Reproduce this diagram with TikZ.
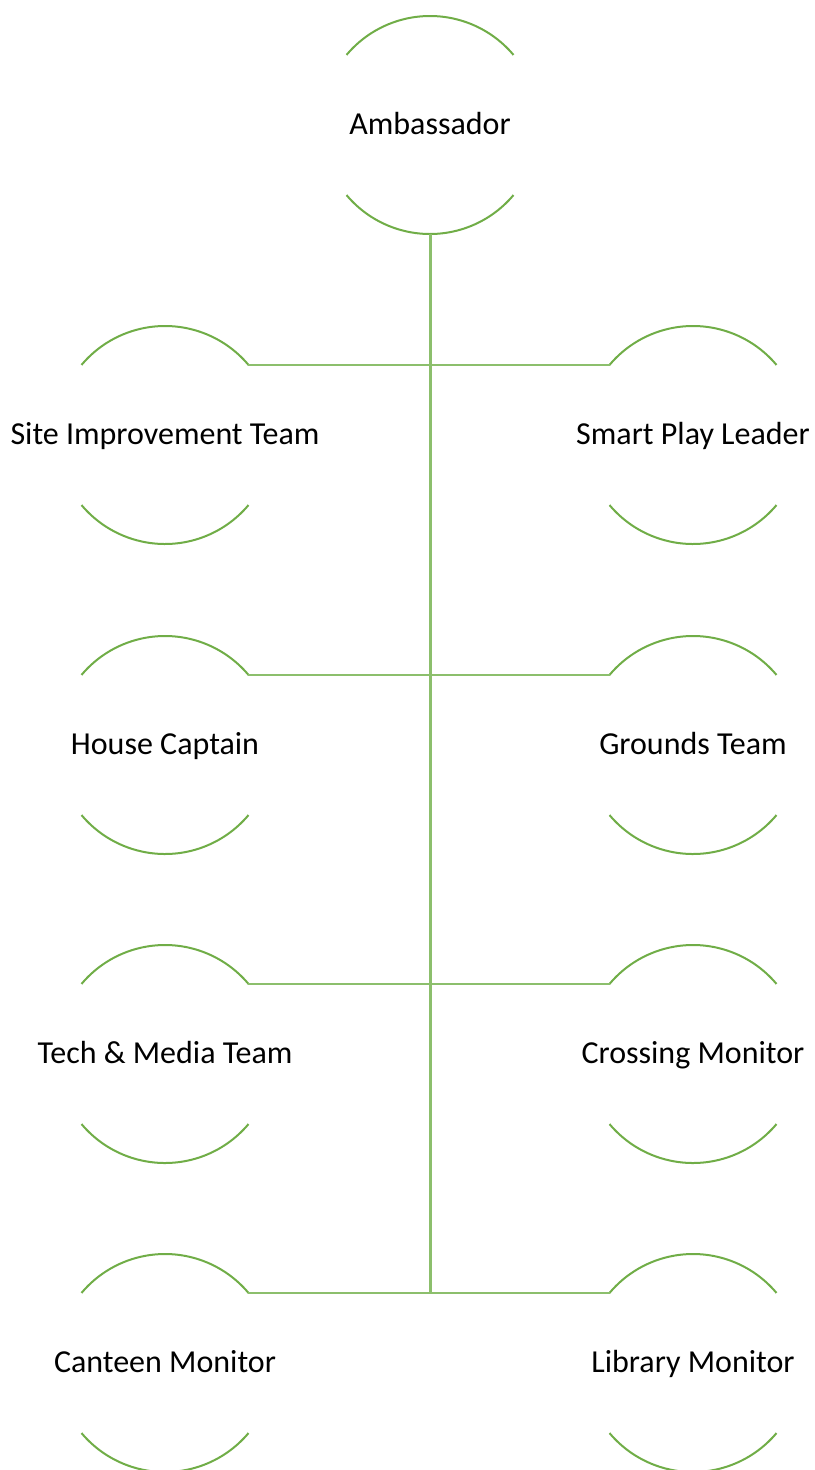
\documentclass[tikz,border=0pt]{standalone}
\usepackage{fontspec}
\setmainfont{Carlito}
\definecolor{arcgreen}{HTML}{70AD47}
\definecolor{linegreen}{HTML}{8CBF6C}
\begin{document}
\begin{tikzpicture}[x=1pt,y=-1pt,
  ring/.style={circle,minimum size=218pt,inner sep=0pt,outer sep=0pt},
  lbl/.style={font=\fontsize{32}{38}\selectfont,text=black,inner sep=0pt,anchor=base,yshift=-9pt},
  arcline/.style={draw=arcgreen,line width=2pt},
  trunk/.style={draw=linegreen,line width=3pt},
  branch/.style={draw=linegreen,line width=2pt}]
\clip (0,0) rectangle (814,1470);
% nodes
\node[ring] (amb) at (430,125) {};
\node[ring] (sit) at (165,435) {};
\node[ring] (spl) at (693,435) {};
\node[ring] (hc)  at (165,745) {};
\node[ring] (gt)  at (693,745) {};
\node[ring] (tm)  at (165,1054) {};
\node[ring] (cr)  at (693,1054) {};
\node[ring] (cm)  at (165,1363) {};
\node[ring] (lm)  at (693,1363) {};
\node[lbl] (tamb) at (amb) {Ambassador};
\node[lbl] (tsit) at (sit) {Site Improvement Team};
\node[lbl] (tspl) at (spl) {Smart Play Leader};
\node[lbl] (thc)  at (hc)  {House Captain};
\node[lbl] (tgt)  at (gt)  {Grounds Team};
\node[lbl] (ttm)  at (tm)  {Tech \& Media Team};
\node[lbl] (tcr)  at (cr)  {Crossing Monitor};
\node[lbl] (tcm)  at (cm)  {Canteen Monitor};
\node[lbl] (tlm)  at (lm)  {Library Monitor};
% arcs
\foreach \n in {amb,sit,spl,hc,gt,tm,cr,cm,lm}{
  \draw[arcline] (\n.-40) arc[start angle=-40,end angle=-140,radius=109pt];
  \draw[arcline] (\n.40) arc[start angle=40,end angle=140,radius=109pt];
}
% connectors (top-side arc ends on the page)
\coordinate (bend) at (amb.south |- cm.40);
\draw[branch] (sit.40) -- (spl.140);
\draw[branch] (hc.40) -- (gt.140);
\draw[branch] (tm.40) -- (cr.140);
\draw[branch] (cm.40) -- (lm.140);
\draw[trunk] (amb.south) -- (bend);
\end{tikzpicture}
\end{document}
